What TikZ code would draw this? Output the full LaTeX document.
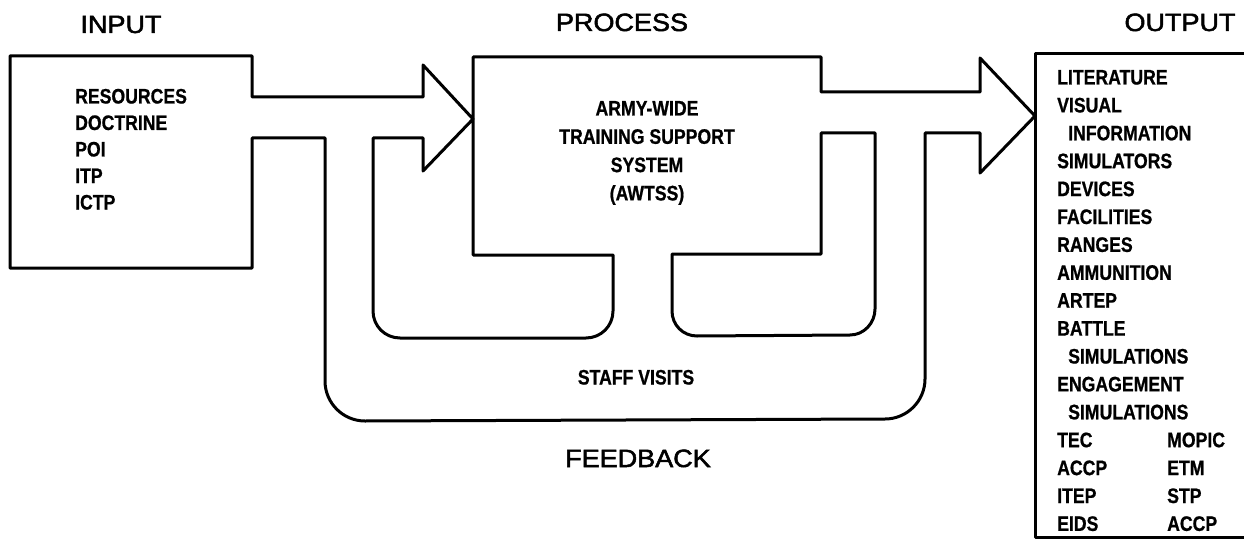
\documentclass[tikz,border=0pt]{standalone}
\usepackage{fontspec}
\setmainfont{Liberation Sans}
\newfontfamily\condfont[FakeStretch=0.84,BoldFeatures={FakeBold=0.8}]{Liberation Sans}
\newfontfamily\headfont[FakeStretch=1.08,FakeBold=2]{Liberation Sans}
\begin{document}
\begin{tikzpicture}[x=1pt,y=-1pt,
  wall/.style={line width=3pt, line join=round, line cap=round},
  item/.style={font=\condfont\bfseries\fontsize{21}{21}\selectfont,
    inner sep=0pt, text height=15pt, text depth=0pt, anchor=west},
  citem/.style={item, anchor=center},
  heading/.style={font=\headfont\fontsize{25}{25}\selectfont,
    inner sep=0pt, text height=18pt, text depth=0pt}]
\useasboundingbox (0,0) rectangle (1244,556);

% input box, input arrow, process box, output arrow and the outer feedback loop
\draw[wall] (10,56) -- (252,56) -- (252,97) -- (423,97) -- (423,65)
  -- (473,119) -- (473,57) -- (821,57) -- (821,92) -- (980,92) -- (980,58)
  -- (1035,116) -- (980,173) -- (980,133) -- (925,133) -- (925,379)
  .. controls (925,401) and (907,419) .. (885,419) -- (365,421)
  .. controls (343,421) and (325,403) .. (325,381) -- (325,138)
  -- (252,138) -- (252,268) -- (10,268) -- cycle;

% inner loop on the left, under the input arrow
\draw[wall] (423,138) -- (423,171) -- (473,119) -- (473,255) -- (613,255)
  -- (613,311) .. controls (613,326) and (601,338) .. (586,338) -- (400,338)
  .. controls (385,338) and (373,326) .. (373,311) -- (373,138) -- cycle;

% inner loop on the right, under the output arrow
\draw[wall] (672,254) -- (821,254) -- (821,133) -- (875,133) -- (875,309)
  .. controls (875,323) and (864,335) .. (850,335) -- (697,336)
  .. controls (683,336) and (672,325) .. (672,311) -- cycle;

% output list frame, open on the right
\draw[wall] (1250,54) -- (1035,54) -- (1035,537) -- (1250,537);

% headings
\node[heading] (hin) at (121,24) {INPUT};
\node[heading] (hproc) at (622,22) {PROCESS};
\node[heading] (hout) at (1180,22) {OUTPUT};
\node[heading] (hfb) at (638,458) {FEEDBACK};

% input list
\foreach \t [count=\i] in {RESOURCES,DOCTRINE,POI,ITP,ICTP}
  \node[item] (in\i) at (75,{96+26.5*(\i-1)}) {\t};

% process text
\foreach \t [count=\i] in {ARMY-WIDE,TRAINING SUPPORT,SYSTEM,(AWTSS)}
  \node[citem] (proc\i) at (647,{108+28.3*(\i-1)}) {\t};

% staff visits
\node[citem] (staff) at (636,377) {STAFF VISITS};

% output list, first column
\foreach \t/\dx [count=\i] in {LITERATURE/0,VISUAL/0,INFORMATION/11,
    SIMULATORS/0,DEVICES/0,FACILITIES/0,RANGES/0,AMMUNITION/0,ARTEP/0,
    BATTLE/0,SIMULATIONS/11,ENGAGEMENT/0,SIMULATIONS/11,TEC/0,ACCP/0,
    ITEP/0,EIDS/0}
  \node[item] (out\i) at ({1057+\dx},{77+27.9*(\i-1)}) {\t};

% output list, second column
\foreach \t [count=\i] in {MOPIC,ETM,STP,ACCP}
  \node[item] (outb\i) at (1167,{77+27.9*(\i+12)}) {\t};
\end{tikzpicture}
\end{document}
